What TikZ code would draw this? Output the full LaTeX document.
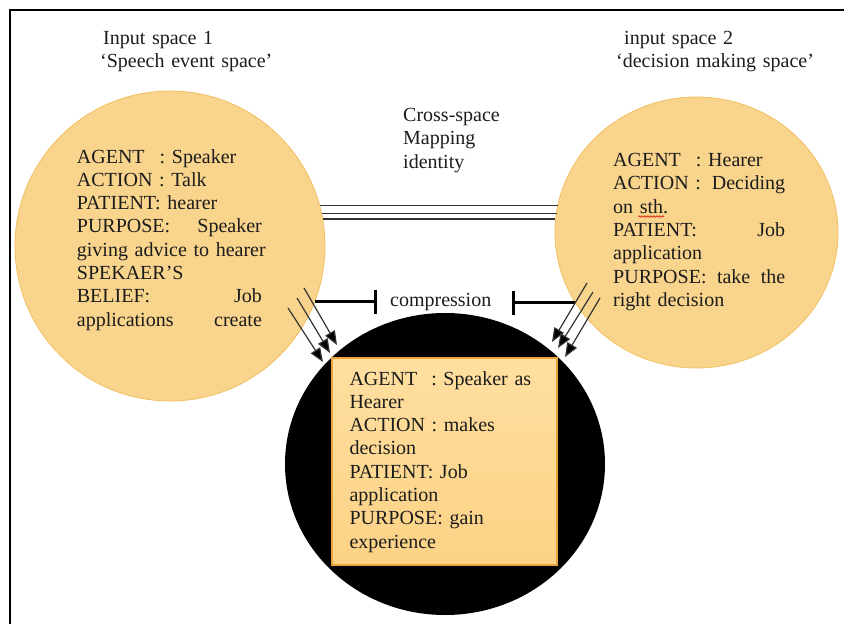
\documentclass[tikz,border=0pt]{standalone}
\usepackage{fontspec}
\setmainfont{Liberation Serif}
\usetikzlibrary{arrows.meta,shapes.geometric,decorations.pathmorphing}
\definecolor{spacefill}{HTML}{F9D48D}
\definecolor{spaceedge}{HTML}{F1C062}
\definecolor{boxtop}{HTML}{FFDFA0}
\definecolor{boxbot}{HTML}{FCD285}
\definecolor{boxedge}{HTML}{E8A53A}
\definecolor{ink}{HTML}{1C1C1C}
\definecolor{wire}{HTML}{333333}
\begin{document}
\begin{tikzpicture}[x=1pt,y=-1pt,
  txt/.style={font=\fontsize{20}{23.3}\selectfont, text=ink, inner sep=0pt,
              anchor=base west, align=left},
  inspace/.style={fill=spacefill, draw=spaceedge, line width=0.8pt, inner sep=0pt},
  mapline/.style={draw=wire, line width=1.4pt},
  projarrow/.style={draw=wire, line width=1.2pt, -{Triangle[length=14pt,width=11pt,fill=black]}},
  compline/.style={draw=black, line width=3pt, -{Bar[width=24pt,line width=2.6pt]}}
]
\useasboundingbox (0,0) rectangle (844,624);

% frame
\draw[line width=2pt] (9.5,624) -- (9.5,10) -- (844,10);

% the two input spaces, the blended space and its frame box
\node[inspace, circle, minimum size=310pt] (sp1) at (170,246) {};
\node[inspace, ellipse, minimum width=283pt, minimum height=271pt] (sp2) at (696.5,232.5) {};
\node[ellipse, fill=black, minimum width=320pt, minimum height=302pt, inner sep=0pt] (blend) at (445,464) {};
\node[rectangle, draw=boxedge, line width=1.3pt, top color=boxtop, bottom color=boxbot,
      minimum width=225pt, minimum height=207pt, inner sep=0pt] (bx) at (444.5,461.5) {};

% headings
\node[txt, text width=200pt] (h1) at (100,44.5)
  {\hspace*{3pt}Input space 1\\‘Speech event space’};
\node[txt, text width=210pt] (h2) at (616,44.5)
  {\hspace*{8pt}input space 2\\‘decision making space’};
\node[txt, text width=120pt] (cross) at (403,121.5)
  {Cross-space\\Mapping\\identity};

% contents of the spaces
\node[txt, text width=200pt] (t1) at (76.7,163)
  {AGENT\hspace{15pt}: Speaker\\
   ACTION : Talk\\
   PATIENT: hearer\\
   \makebox[185pt][s]{PURPOSE:\hfill Speaker}\\
   giving advice to hearer\\
   SPEKAER’S\\
   \makebox[185pt][s]{BELIEF:\hfill Job}\\
   \makebox[185pt][s]{applications\hfill create}};

\node[txt, text width=190pt] (t2) at (613,166.5)
  {AGENT\hspace{15pt}: Hearer\\
   \makebox[172pt][s]{ACTION :\hfill Deciding}\\
   on sth.\\
   \makebox[172pt][s]{PATIENT:\hfill Job}\\
   application\\
   \makebox[172pt][s]{PURPOSE:\hfill take\hfill the}\\
   right decision};

\node[txt, text width=200pt] (t3) at (349.3,385)
  {AGENT\hspace{14pt}: Speaker as\\
   Hearer\\
   ACTION : makes\\
   decision\\
   PATIENT: Job\\
   application\\
   PURPOSE: gain\\
   experience};

% spelling mark under "sth"
\draw[red!85!black, line width=0.6pt, decorate,
      decoration={snake, amplitude=0.8pt, segment length=3pt}]
  (638,216.5) -- (664,216.5);

% cross-space mapping
\draw[mapline] (sp1.15.3) -- (sp1.15.3 -| sp2.168.8);
\draw[mapline] (sp1.12.7) -- (sp1.12.7 -| sp2.171.7);
\draw[mapline] (sp1.10.0) -- (sp1.10.0 -| sp2.174.5);

% compression
\node[txt] (comp) at (390,306.5) {compression};
\coordinate (cbL) at (377,303);
\coordinate (cbR) at (512,303);
\draw[compline] (sp1.-21.6) -- (sp1.-21.6 -| cbL);
\draw[compline] (sp2.210.3) -- (sp2.210.3 -| cbR);

% projections into the blend
\coordinate (la1) at (304,288); \coordinate (la1e) at (337,345);
\coordinate (la2) at (297,298); \coordinate (la2e) at (330,353);
\coordinate (la3) at (288,308); \coordinate (la3e) at (323,362);
\coordinate (ra1) at (587,283); \coordinate (ra1e) at (552,342);
\coordinate (ra2) at (593,292); \coordinate (ra2e) at (558,348);
\coordinate (ra3) at (600,298); \coordinate (ra3e) at (565,357);
\foreach \a in {la1,la2,la3,ra1,ra2,ra3}
  \draw[projarrow] (\a) -- (\a e);
\end{tikzpicture}
\end{document}
